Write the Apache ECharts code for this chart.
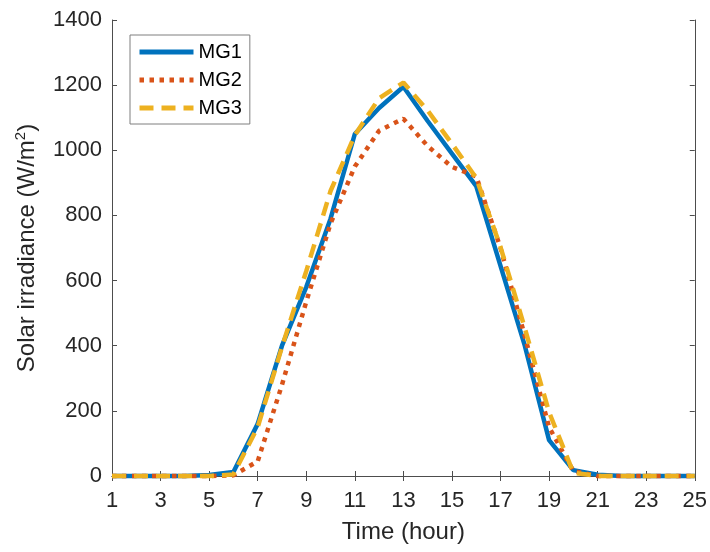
<!DOCTYPE html>
<html>
<head>
<meta charset="utf-8">
<script src="https://cdn.jsdelivr.net/npm/echarts@6/dist/echarts.min.js"></script>
<style>
html,body{margin:0;padding:0;background:#fff;}
#chart{width:710px;height:552px;}
</style>
</head>
<body>
<div id="chart"></div>
<script>
var hours = ['1','2','3','4','5','6','7','8','9','10','11','12','13','14','15','16','17','18','19','20','21','22','23','24','25'];
var mg1 = [0,0,0,0,3,12,160,400,580,790,1050,1130,1195,1090,990,890,645,400,110,18,4,0,0,0,0];
var mg2 = [0,0,0,0,0,2,45,280,535,775,950,1060,1097,1013,949,920,700,430,150,15,0,0,0,0,0];
var mg3 = [0,0,0,0,0,5,150,396,629,875,1046,1160,1208,1122,1020,915,703,454,196,10,0,0,0,0,0];
var yTicks = {min:0, max:1400, interval:200};

var FONT = 'Liberation Sans, Arial, Helvetica, sans-serif';
var TXT = '#262626';
var AX = '#4d4d4d';

var chart = echarts.init(document.getElementById('chart'), null, {renderer:'canvas'});
var option = {
  animation:false,
  backgroundColor:'#ffffff',
  textStyle:{fontFamily:FONT,color:TXT},
  grid:{left:112,right:15,top:20,bottom:76,containLabel:false},
  legend:{
    left:130, top:35, orient:'vertical',
    backgroundColor:'#ffffff', borderColor:'#7f7f7f', borderWidth:1, borderRadius:0,
    padding:[7,8,6,7], itemWidth:54, itemHeight:20, itemGap:8,
    textStyle:{fontFamily:FONT,fontSize:20,color:'#000'},
    data:['MG1','MG2','MG3'],
    lineStyle:{width:5},
    itemStyle:{opacity:0}
  },
  xAxis:[{
    type:'category', data:hours, boundaryGap:false,
    name:'Time (hour)', nameLocation:'middle', nameGap:44,
    nameTextStyle:{fontFamily:FONT,fontSize:24,color:TXT},
    axisLine:{show:true,lineStyle:{color:AX,width:1}},
    axisTick:{show:true,inside:true,length:5,interval:1,lineStyle:{color:AX}},
    axisLabel:{interval:1,fontFamily:FONT,fontSize:22,color:TXT,margin:14},
    splitLine:{show:false}
  },{
    type:'category', data:hours, boundaryGap:false, position:'top',
    axisLine:{show:true,lineStyle:{color:AX,width:1}},
    axisTick:{show:true,inside:true,length:5,interval:1,lineStyle:{color:AX}},
    axisLabel:{show:false}, splitLine:{show:false}
  }],
  yAxis:[{
    type:'value', min:yTicks.min, max:yTicks.max, interval:yTicks.interval,
    name:'{a|Solar irradiance (W/m}{s|2}{a|)}', nameLocation:'middle', nameGap:70, nameRotate:90,
    nameTextStyle:{fontFamily:FONT,fontSize:24,color:TXT,
      rich:{a:{fontFamily:FONT,fontSize:24,color:TXT},
            s:{fontFamily:FONT,fontSize:15,color:TXT,verticalAlign:'top',padding:[0,0,14,0]}}},
    axisLine:{show:true,lineStyle:{color:AX,width:1}},
    axisTick:{show:true,inside:true,length:5,lineStyle:{color:AX}},
    axisLabel:{fontFamily:FONT,fontSize:22,color:TXT,margin:10,formatter:function(v){return String(v);}},
    splitLine:{show:false}
  },{
    type:'value', min:yTicks.min, max:yTicks.max, interval:yTicks.interval, position:'right',
    axisLine:{show:true,lineStyle:{color:AX,width:1}},
    axisTick:{show:true,inside:true,length:5,lineStyle:{color:AX}},
    axisLabel:{show:false}, splitLine:{show:false}
  }],
  series:[
    {name:'MG1',type:'line',data:mg1,symbol:'none',clip:false,
     lineStyle:{color:'#0072BD',width:4.5,type:'solid'},itemStyle:{color:'#0072BD'}},
    {name:'MG2',type:'line',data:mg2,symbol:'none',clip:false,
     lineStyle:{color:'#D95319',width:4.5,type:[4.5,5.5]},itemStyle:{color:'#D95319'}},
    {name:'MG3',type:'line',data:mg3,symbol:'none',clip:false,
     lineStyle:{color:'#EDB120',width:4.5,type:[14,8]},itemStyle:{color:'#EDB120'}}
  ]
};
chart.setOption(option);
</script>
</body>
</html>
